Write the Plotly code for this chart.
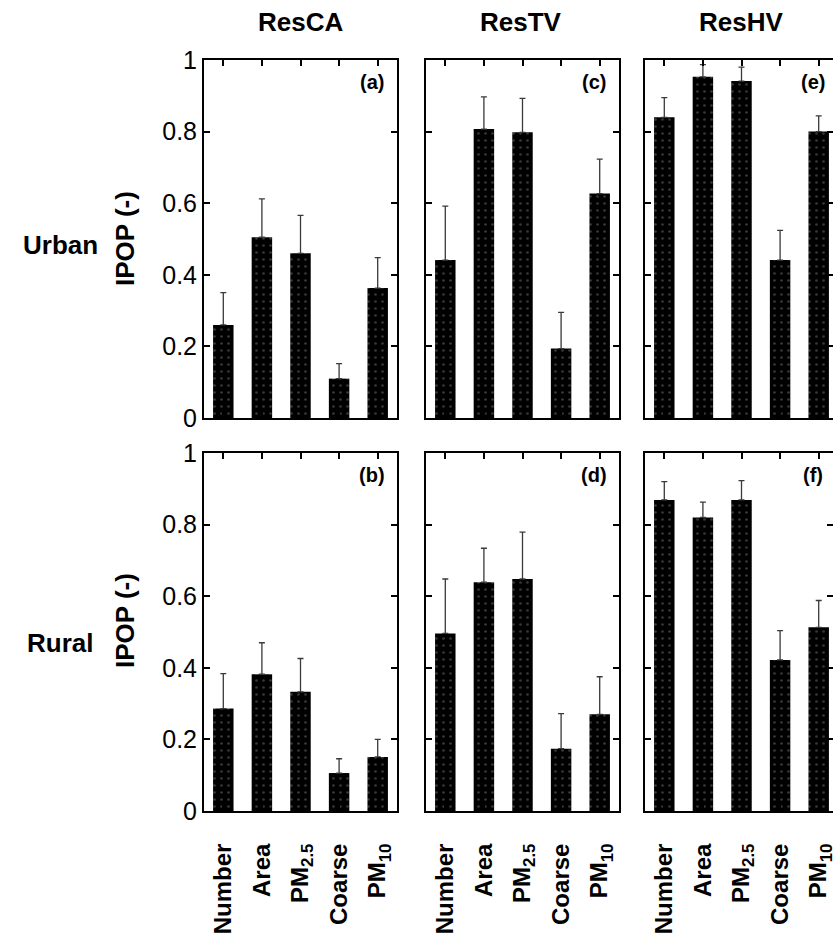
import plotly.graph_objects as go

categories = ["Number", "Area", "PM<sub>2.5</sub>", "Coarse", "PM<sub>10</sub>"]
col_titles = ["ResCA", "ResTV", "ResHV"]
row_titles = ["Urban", "Rural"]
panel_tags = ["(a)", "(c)", "(e)", "(b)", "(d)", "(f)"]
y_ticks = [0, 0.2, 0.4, 0.6, 0.8, 1]
y_ticktext = ["0", "0.2", "0.4", "0.6", "0.8", "1"]

urban_resca = [0.260, 0.505, 0.460, 0.110, 0.363]
urban_resca_err = [0.090, 0.107, 0.106, 0.042, 0.085]
urban_restv = [0.441, 0.807, 0.798, 0.194, 0.627]
urban_restv_err = [0.151, 0.090, 0.095, 0.101, 0.096]
urban_reshv = [0.840, 0.953, 0.941, 0.441, 0.800]
urban_reshv_err = [0.055, 0.034, 0.039, 0.083, 0.044]
rural_resca = [0.286, 0.382, 0.333, 0.106, 0.151]
rural_resca_err = [0.098, 0.088, 0.093, 0.040, 0.049]
rural_restv = [0.496, 0.639, 0.648, 0.174, 0.270]
rural_restv_err = [0.152, 0.095, 0.131, 0.098, 0.105]
rural_reshv = [0.869, 0.820, 0.869, 0.422, 0.513]
rural_reshv_err = [0.051, 0.043, 0.054, 0.082, 0.075]

panels = [
    (urban_resca, urban_resca_err),
    (urban_restv, urban_restv_err),
    (urban_reshv, urban_reshv_err),
    (rural_resca, rural_resca_err),
    (rural_restv, rural_restv_err),
    (rural_reshv, rural_reshv_err),
]

W, H = 833, 937
FONT = "Liberation Sans, Arial, Helvetica, sans-serif"
col_left = [204, 426, 645]
panel_w = 193
row_top = [60, 453]
panel_h = 358


def px(x, y):
    return x / W, 1 - y / H


def note(text, x, y, size, angle=0, bold=True):
    tx, ty = px(x, y)
    fig.add_annotation(
        x=tx, y=ty, xref="paper", yref="paper", text=text, showarrow=False,
        xanchor="center", yanchor="middle", textangle=angle,
        font=dict(family=FONT, size=size, color="black",
                  weight="bold" if bold else "normal"),
    )


fig = go.Figure()
layout = {}
for i, (vals, errs) in enumerate(panels):
    r, c = divmod(i, 3)
    n = "" if i == 0 else str(i + 1)
    x0 = col_left[c]
    x1 = min(x0 + panel_w, W)
    xr_end = -0.5 + 5 * (x1 - x0) / panel_w
    fig.add_trace(go.Bar(
        x=list(range(5)), y=vals,
        width=0.53,
        marker=dict(color="#000000", line=dict(width=0),
                    pattern=dict(shape=".", fgcolor="#6e6e6e", size=7, solidity=0.12)),
        error_y=dict(type="data", array=errs, arrayminus=[0] * 5, symmetric=False,
                     color="#3a3a3a", thickness=1.3, width=3),
        xaxis="x" + n, yaxis="y" + n, showlegend=False,
    ))
    layout["xaxis" + n] = dict(
        domain=[x0 / W, x1 / W], range=[-0.5, xr_end],
        tickvals=list(range(5)), ticktext=categories,
        showticklabels=(r == 1), tickangle=-90,
        ticks="inside", ticklen=6, tickwidth=2, tickcolor="black",
        showline=True, linewidth=2, linecolor="black", mirror="ticks",
        showgrid=False, zeroline=False, anchor="y" + n, automargin=False,
        tickfont=dict(family=FONT, size=24, color="black", weight="bold"),
        ticklabelstandoff=21, ticklabeloverflow="allow",
    )
    layout["yaxis" + n] = dict(
        domain=[1 - (row_top[r] + panel_h) / H, 1 - row_top[r] / H], range=[0, 1],
        tickvals=y_ticks, ticktext=y_ticktext, showticklabels=(c == 0),
        ticks="inside", ticklen=6, tickwidth=2, tickcolor="black",
        showline=True, linewidth=2, linecolor="black", mirror="ticks",
        showgrid=False, zeroline=False, anchor="x" + n, automargin=False,
        tickfont=dict(family=FONT, size=25, color="black"),
        ticklabeloverflow="allow",
    )
    note(panel_tags[i], x0 + 168, row_top[r] + 22, 20)

for t, cx in zip(col_titles, [300, 521, 741]):
    note(t, cx, 22, 26)

for t, (cx, cy) in zip(row_titles, [(60, 245), (60, 643)]):
    note(t, cx, cy, 26)

for cx, cy in [(125, 238), (125, 620)]:
    note("IPOP (-)", cx, cy, 26, angle=-90)

fig.update_layout(
    width=W, height=H, margin=dict(l=0, r=0, t=0, b=0, autoexpand=False),
    paper_bgcolor="white", plot_bgcolor="white",
    font=dict(family=FONT, color="black"),
    **layout,
)
fig.write_html("out.html")
